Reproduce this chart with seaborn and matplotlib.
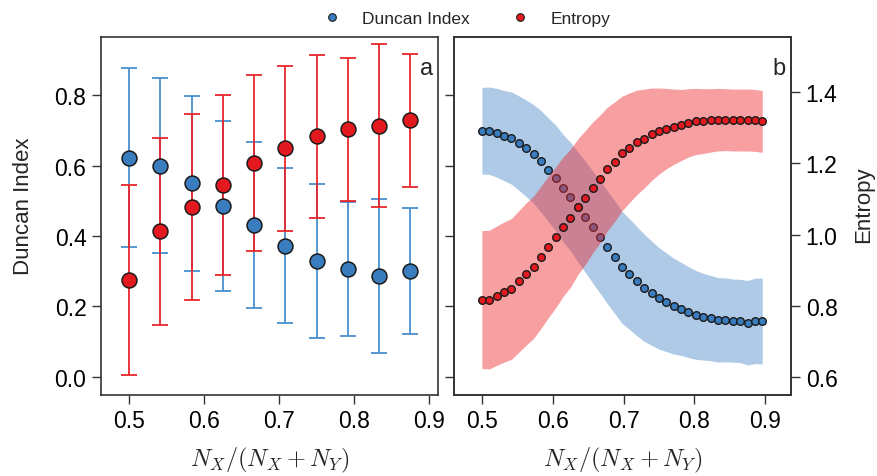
import numpy as np
import pandas as pd
import matplotlib
matplotlib.use("Agg")
import matplotlib.pyplot as plt
from matplotlib.lines import Line2D
import seaborn as sns

# ---- panel a: ten group compositions, mean +/- std ----
frac_a = [12/24, 13/24, 14/24, 15/24, 16/24, 17/24, 18/24, 19/24, 20/24, 21/24]
duncan_a = [0.622, 0.600, 0.550, 0.486, 0.431, 0.373, 0.329, 0.306, 0.287, 0.301]
duncan_a_sd = [0.254, 0.249, 0.248, 0.241, 0.235, 0.221, 0.219, 0.191, 0.219, 0.178]
entropy_a = [0.275, 0.413, 0.482, 0.545, 0.607, 0.649, 0.683, 0.703, 0.713, 0.728]
entropy_a_sd = [0.269, 0.266, 0.264, 0.256, 0.249, 0.234, 0.232, 0.203, 0.232, 0.188]

# ---- panel b: fine sweep N_X = 48..86 of 96 ----
frac_b = [n / 96 for n in range(48, 87)]
duncan_b = [0.699, 0.699, 0.693, 0.685, 0.678, 0.664, 0.649, 0.633, 0.612, 0.588,
            0.565, 0.536, 0.512, 0.483, 0.455, 0.426, 0.398, 0.368, 0.340, 0.311,
            0.292, 0.272, 0.253, 0.238, 0.223, 0.212, 0.201, 0.193, 0.184, 0.176,
            0.171, 0.167, 0.162, 0.162, 0.160, 0.159, 0.154, 0.159, 0.159]
duncan_b_sd = [0.123, 0.124, 0.126, 0.128, 0.131, 0.134, 0.137, 0.140, 0.144, 0.147,
               0.150, 0.152, 0.154, 0.156, 0.158, 0.159, 0.160, 0.160, 0.160, 0.159,
               0.157, 0.155, 0.152, 0.148, 0.144, 0.140, 0.136, 0.132, 0.129, 0.126,
               0.123, 0.121, 0.120, 0.119, 0.118, 0.118, 0.120, 0.121, 0.122]
entropy_b = [0.817, 0.817, 0.828, 0.838, 0.847, 0.868, 0.889, 0.908, 0.936, 0.965,
             0.992, 1.022, 1.046, 1.078, 1.104, 1.132, 1.156, 1.184, 1.205, 1.228,
             1.244, 1.259, 1.270, 1.282, 1.291, 1.298, 1.303, 1.308, 1.314, 1.318,
             1.319, 1.321, 1.323, 1.323, 1.322, 1.322, 1.322, 1.321, 1.318]
entropy_b_sd = [0.194, 0.195, 0.196, 0.197, 0.198, 0.199, 0.200, 0.200, 0.200, 0.199,
                0.198, 0.196, 0.194, 0.191, 0.188, 0.184, 0.180, 0.174, 0.168, 0.161,
                0.154, 0.147, 0.139, 0.130, 0.121, 0.113, 0.106, 0.100, 0.096, 0.093,
                0.091, 0.089, 0.088, 0.087, 0.087, 0.087, 0.087, 0.087, 0.087]

xticks = [0.5, 0.6, 0.7, 0.8, 0.9]
duncan_ticks = [0.0, 0.2, 0.4, 0.6, 0.8]
entropy_ticks = [0.6, 0.8, 1.0, 1.2, 1.4]

BLUE = "#3a7dbf"
RED = "#e3191f"
BLUE_BAR = "#4a8fce"
RED_BAR = "#e8262c"
EDGE = "#1a1a1a"
SPINE = "#333333"

sns.set_theme(style="ticks")
plt.rcParams["font.family"] = ["Liberation Sans", "DejaVu Sans"]
plt.rcParams["mathtext.fontset"] = "cm"

df_a = pd.DataFrame({"frac": frac_a, "duncan": duncan_a, "duncan_sd": duncan_a_sd,
                     "entropy": entropy_a, "entropy_sd": entropy_a_sd})
df_b = pd.DataFrame({"frac": frac_b, "duncan": duncan_b, "duncan_sd": duncan_b_sd,
                     "entropy": entropy_b, "entropy_sd": entropy_b_sd})

fig = plt.figure(figsize=(8.78, 4.77), dpi=100)
ax1 = fig.add_axes([0.115, 0.170, 0.384, 0.750])
ax2 = fig.add_axes([0.517, 0.170, 0.384, 0.750])

TICK_FS = 16.5
XLABEL_FS = 17.5
YLABEL_FS = 16

# ---- panel a ----
ax1.errorbar(df_a["frac"], df_a["duncan"], yerr=df_a["duncan_sd"], fmt="none",
             ecolor=BLUE_BAR, elinewidth=1.3, capsize=5.5, capthick=1.3, zorder=2)
ax1.errorbar(df_a["frac"], df_a["entropy"], yerr=df_a["entropy_sd"], fmt="none",
             ecolor=RED_BAR, elinewidth=1.3, capsize=5.5, capthick=1.3, zorder=3)
sns.scatterplot(data=df_a, x="frac", y="duncan", ax=ax1, color=BLUE, s=115,
                edgecolor=EDGE, linewidth=1.1, zorder=4, legend=False)
sns.scatterplot(data=df_a, x="frac", y="entropy", ax=ax1, color=RED, s=115,
                edgecolor=EDGE, linewidth=1.1, zorder=5, legend=False)
ax1.set_xlim(0.4626, 0.912)
ax1.set_ylim(-0.051, 0.9645)
ax1.set_xticks(xticks)
ax1.set_xticklabels([f"{t:.1f}" for t in xticks])
ax1.set_yticks(duncan_ticks)
ax1.set_yticklabels([f"{t:.1f}" for t in duncan_ticks])
ax1.set_ylabel("Duncan Index", fontsize=YLABEL_FS)
ax1.yaxis.set_label_coords(-0.2, 0.53)
ax1.set_xlabel(r"$N_X/(N_X+N_Y)$", fontsize=XLABEL_FS, labelpad=9)
ax1.text(0.985, 0.915, "a", transform=ax1.transAxes, ha="right", va="center", fontsize=17)

# ---- panel b ----
ax2.fill_between(df_b["frac"], df_b["duncan"] - df_b["duncan_sd"],
                 df_b["duncan"] + df_b["duncan_sd"], color="#3f82c4", alpha=0.42,
                 linewidth=0, zorder=1)
sns.scatterplot(data=df_b, x="frac", y="duncan", ax=ax2, color=BLUE, s=30,
                edgecolor=EDGE, linewidth=1.0, zorder=3, legend=False)
ax2.set_xlim(0.4605, 0.9365)
ax2.set_ylim(-0.051, 0.9645)
ax2.set_xticks(xticks)
ax2.set_xticklabels([f"{t:.1f}" for t in xticks])
ax2.set_yticks(duncan_ticks)
ax2.set_yticklabels([])
ax2.set_ylabel("")
ax2.set_xlabel(r"$N_X/(N_X+N_Y)$", fontsize=XLABEL_FS, labelpad=9)

ax2r = ax2.twinx()
ax2r.fill_between(df_b["frac"], df_b["entropy"] - df_b["entropy_sd"],
                  df_b["entropy"] + df_b["entropy_sd"], color="#ee2a30", alpha=0.45,
                  linewidth=0, zorder=1)
sns.scatterplot(data=df_b, x="frac", y="entropy", ax=ax2r, color=RED, s=30,
                edgecolor=EDGE, linewidth=1.0, zorder=3, legend=False)
ax2r.set_ylim(0.549, 1.555)
ax2r.set_yticks(entropy_ticks)
ax2r.set_yticklabels([f"{t:.1f}" for t in entropy_ticks])
ax2r.set_ylabel("Entropy", fontsize=YLABEL_FS)
ax2r.yaxis.set_label_coords(1.185, 0.535)
ax2r.text(0.985, 0.915, "b", transform=ax2r.transAxes, ha="right", va="center", fontsize=17)

for ax in (ax1, ax2, ax2r):
    ax.tick_params(axis="both", labelsize=TICK_FS, length=6.5, width=1.0, color=SPINE,
                   labelcolor="black", direction="out", pad=4)
    for sp in ax.spines.values():
        sp.set_visible(True)
        sp.set_color(SPINE)
        sp.set_linewidth(1.2)
ax1.tick_params(right=False, top=False)
ax2.tick_params(right=False, top=False)
ax2r.tick_params(left=False, top=False)

handles = [
    Line2D([], [], marker="o", linestyle="none", markersize=5.5, markerfacecolor=BLUE,
           markeredgecolor=EDGE, markeredgewidth=0.8, label="Duncan Index"),
    Line2D([], [], marker="o", linestyle="none", markersize=5.5, markerfacecolor=RED,
           markeredgecolor=EDGE, markeredgewidth=0.8, label="Entropy"),
]
fig.legend(handles=handles, loc="upper center", bbox_to_anchor=(0.527, 1.008), ncol=2,
           frameon=False, fontsize=12.5, handletextpad=0.75, columnspacing=1.9)

fig.savefig("out.png", dpi=100)
